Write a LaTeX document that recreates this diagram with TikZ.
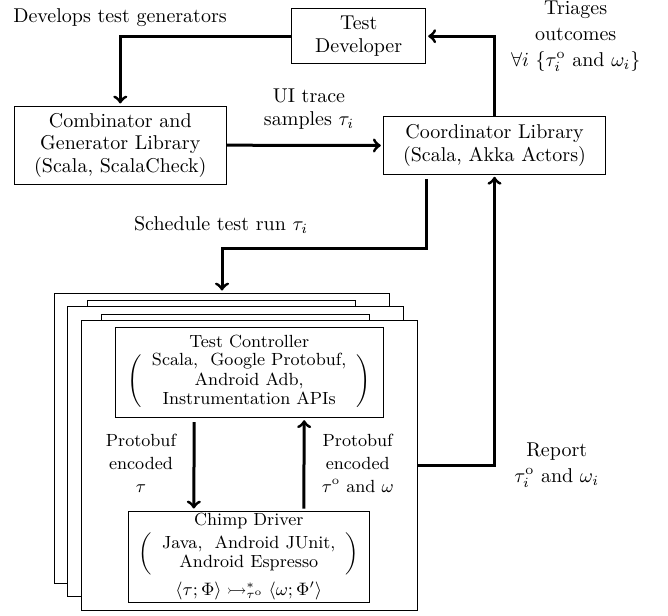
\documentclass[tikz,border=0pt]{standalone}
\usepackage{amsmath,amssymb}
\usepackage{tikz}
\usetikzlibrary{calc,positioning}
\usetikzlibrary{arrows}

\begin{document}
\begin{tikzpicture}[x=0.5pt,y=-0.5pt,
  box/.style={draw=black, line width=0.5pt, fill=white, inner sep=0pt, align=center, font=\fontsize{10}{11.25}\selectfont},
  inbox/.style={draw=black, line width=0.5pt, fill=white, inner sep=0pt, align=center, font=\fontsize{8.8}{9.75}\selectfont},
  frame/.style={draw=black, line width=0.5pt, fill=white, inner sep=0pt, minimum width=167.8pt, minimum height=145pt},
  lab/.style={align=center, font=\fontsize{10}{11.25}\selectfont},
  mathlab/.style={align=center, font=\fontsize{10}{13}\selectfont},
  inlab/.style={align=center, font=\fontsize{8.8}{11.5}\selectfont},
  arr/.style={->, >=to, line width=1.5pt, shorten >=1pt}]

\useasboundingbox (0,0) rectangle (668,615);

\node[box, minimum width=67pt, minimum height=27.8pt] (dev) at (358.7,36.2) {Test\\ Developer};
\node[box, minimum width=106.3pt, minimum height=39.2pt] (comb) at (120.3,145.2) {Combinator and\\ Generator Library\\ (Scala, ScalaCheck)};
\node[box, minimum width=111.2pt, minimum height=28.8pt] (coord) at (494.5,145.5) {Coordinator Library\\ (Scala, Akka Actors)};

% stacked test runs
\node[frame] (fa) at (222,438) {};
\node[inbox, minimum width=134.2pt, minimum height=45pt] (ia) at (221.7,345.7) {};
\node[frame] (fc) at (235.75,451.5) {};
\node[inbox, minimum width=134.2pt, minimum height=45pt] (ic) at (235.45,359.2) {};
\node[frame] (fe) at (249.5,465) {};

\node[inbox, minimum width=134.2pt, minimum height=45pt] (ctrl) at (249.2,372.7) {Test Controller\\[1pt]
  $\left(\begin{array}{c}\text{Scala,~ Google Protobuf,}\\ \text{Android Adb,}\\ \text{Instrumentation APIs}\end{array}\right)$};
\node[inbox, minimum width=120.5pt, minimum height=45.7pt] (chimp) at (248.8,556.7) {Chimp Driver\\[1pt]
  $\left(\begin{array}{c}\text{Java,~ Android JUnit,}\\ \text{Android Espresso}\end{array}\right)$\\[2pt]
  $\langle\tau;\Phi\rangle \rightarrowtail^{*}_{\tau^{\mathrm{o}}} \langle\omega;\Phi'\rangle$};

\node[lab] (devlab) at (120,18) {Develops test generators};
\node[lab] (uilab) at (309,109) {UI trace\\ samples $\tau_i$};
\node[mathlab] (trlab) at (575.7,36) {Triages\\ outcomes\\ $\forall i\ \{\tau_i^{\mathrm{o}}$ and $\omega_i\}$};
\node[lab] (schlab) at (221,225) {Schedule test run $\tau_i$};
\node[mathlab] (replab) at (556.7,465) {Report\\ $\tau_i^{\mathrm{o}}$ and $\omega_i$};
\node[inlab] (pleft) at (141,463) {Protobuf\\ encoded\\ $\tau$};
\node[inlab] (pright) at (357.7,463) {Protobuf\\ encoded\\ $\tau^{\mathrm{o}}$ and $\omega$};

\draw[arr] (dev.west) -| (comb.north);
\draw[arr] (comb.east) -- (coord.west);
\draw[arr] (coord.north) |- (dev.east);
\coordinate (sched) at ($(coord.south west)+(44,4)$);
\draw[arr] (sched) |- ($(fa.north)+(0,-44)$) -- (fa.north);
\draw[arr] (fe.east) -| (coord.south);
\draw[arr] ($(ctrl.south)+(-55,4)$) -- ($(chimp.north)+(-55,0)$);
\draw[arr] ($(chimp.north)+(55,-2)$) -- ($(ctrl.south)+(55,0)$);

\end{tikzpicture}
\end{document}
